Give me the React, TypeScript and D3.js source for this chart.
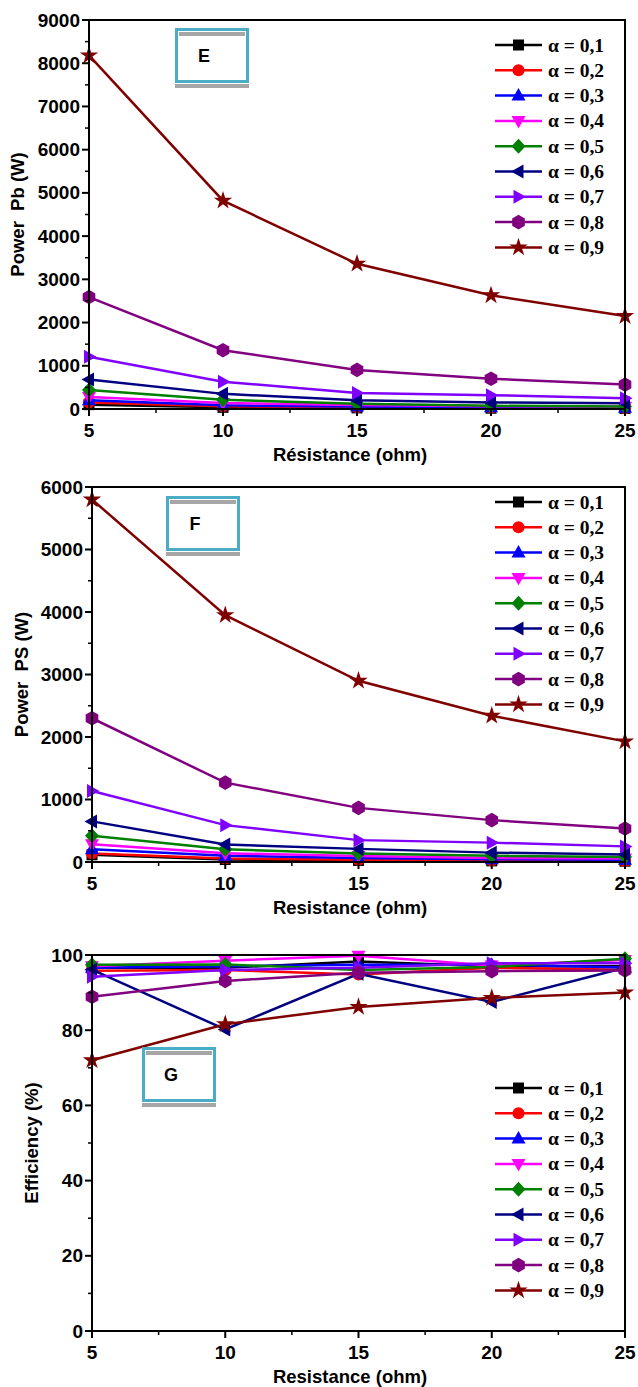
import React from 'react';
import * as d3 from 'd3';

// ---------- data ----------
const resistance = [5, 10, 15, 20, 25];
const alphaLabels = ['α = 0,1', 'α = 0,2', 'α = 0,3', 'α = 0,4', 'α = 0,5', 'α = 0,6', 'α = 0,7', 'α = 0,8', 'α = 0,9'];
const seriesColors = ['#000000', '#FF0000', '#0000FF', '#FF00FF', '#008000', '#000080', '#8000FF', '#800080', '#800000'];
const markerShapes = ['square', 'circle', 'triUp', 'triDown', 'diamond', 'triLeft', 'triRight', 'hexagon', 'star'];

// Power Pb (W), one row per alpha
const pbValues = [
  [100, 38, 25, 18, 12],
  [150, 62, 40, 28, 20],
  [200, 85, 55, 40, 30],
  [280, 140, 95, 65, 50],
  [440, 215, 120, 75, 55],
  [680, 350, 200, 150, 135],
  [1210, 630, 370, 320, 250],
  [2590, 1360, 905, 700, 565],
  [8180, 4820, 3360, 2630, 2150],
];

// Power PS (W)
const psValues = [
  [115, 40, 25, 18, 12],
  [135, 55, 35, 25, 18],
  [205, 100, 65, 45, 35],
  [285, 140, 95, 65, 55],
  [420, 205, 135, 100, 80],
  [650, 280, 210, 150, 120],
  [1135, 590, 350, 310, 250],
  [2300, 1270, 866, 670, 535],
  [5800, 3950, 2900, 2340, 1930],
];

// Efficiency (%)
const efficiencyValues = [
  [96.6, 96.6, 98.3, 97.0, 97.0],
  [95.8, 96.0, 94.8, 96.6, 96.1],
  [96.6, 97.0, 97.4, 97.4, 96.7],
  [97.0, 98.5, 99.8, 97.2, 98.7],
  [97.4, 97.5, 96.0, 96.8, 99.0],
  [96.1, 80.2, 95.0, 87.5, 96.6],
  [94.2, 96.0, 96.6, 97.8, 97.8],
  [88.9, 93.1, 95.3, 95.7, 95.9],
  [72.0, 81.6, 86.2, 88.6, 90.0],
];

const xTicks = [5, 10, 15, 20, 25];
const xMinorTicks = [7.5, 12.5, 17.5, 22.5];
const pbTicks = [0, 1000, 2000, 3000, 4000, 5000, 6000, 7000, 8000, 9000];
const psTicks = [0, 1000, 2000, 3000, 4000, 5000, 6000];
const effTicks = [0, 20, 40, 60, 80, 100];

// ---------- helpers ----------
function markerPath(shape: string): string {
  switch (shape) {
    case 'square':
      return 'M-5.5,-5.5H5.5V5.5H-5.5Z';
    case 'circle':
      return d3.symbol(d3.symbolCircle, 115)() as string;
    case 'triUp':
      return 'M0,-7.5L7,5L-7,5Z';
    case 'triDown':
      return 'M0,7.5L7,-5L-7,-5Z';
    case 'diamond':
      return 'M0,-7.5L7,0L0,7.5L-7,0Z';
    case 'triLeft':
      return 'M-7.5,0L5,-7L5,7Z';
    case 'triRight':
      return 'M7.5,0L-5,-7L-5,7Z';
    case 'hexagon': {
      const r = 7.3;
      const pts = d3.range(6).map((k) => {
        const a = (Math.PI / 3) * k - Math.PI / 2;
        return [r * Math.cos(a), r * Math.sin(a)];
      });
      return 'M' + pts.map((p) => p.join(',')).join('L') + 'Z';
    }
    case 'star':
      return d3.symbol(d3.symbolStar, 105)() as string;
    default:
      return '';
  }
}

const sans = '"Liberation Sans", Arial, sans-serif';
const serif = '"Liberation Serif", "Times New Roman", serif';

type PanelProps = {
  values: number[][];
  yTicks: number[];
  yMax: number;
  yMinorStep: number;
  left: number;
  right: number;
  top: number;
  bottom: number;
  yTitle: string;
  yTitleX: number;
  xTitle: string;
  tag: string;
  tagBox: { x: number; y: number };
  legend: { x: number; y: number };
};

function LabelBox({ x, y, text }: { x: number; y: number; text: string }) {
  const w = 74;
  const h = 55;
  return (
    <g>
      <rect x={x} y={y + h + 1} width={w} height={4} fill="#a6a6a6" />
      <rect x={x + 1.5} y={y + 1.5} width={w - 3} height={h - 3} fill="#fff" stroke="#4bacc6" strokeWidth={3} />
      <rect x={x + 4} y={y + 4} width={w - 8} height={4} fill="#a6a6a6" />
      <text x={x + w / 2 - 8} y={y + h / 2 + 6} textAnchor="middle" fontFamily={sans} fontWeight="bold" fontSize={18}>
        {text}
      </text>
    </g>
  );
}

function Panel(p: PanelProps) {
  const x = d3.scaleLinear().domain([5, 25]).range([p.left, p.right]);
  const y = d3.scaleLinear().domain([0, p.yMax]).range([p.bottom, p.top]);
  const minorY = d3.range(0, p.yMax + 1e-9, p.yMinorStep).filter((v) => !p.yTicks.includes(v));
  const line = d3
    .line<number>()
    .x((_, i) => x(resistance[i]))
    .y((d) => y(d));
  const midY = (p.top + p.bottom) / 2;
  const rowH = 25.3;
  return (
    <g>
      {/* series */}
      {p.values.map((vals, si) => (
        <g key={si}>
          <path d={line(vals) as string} fill="none" stroke={seriesColors[si]} strokeWidth={2.5} />
          {vals.map((v, i) => (
            <path key={i} d={markerPath(markerShapes[si])} transform={`translate(${x(resistance[i])},${y(v)})`} fill={seriesColors[si]} />
          ))}
        </g>
      ))}
      {/* frame */}
      <rect x={p.left} y={p.top} width={p.right - p.left} height={p.bottom - p.top} fill="none" stroke="#000" strokeWidth={2} />
      {/* y ticks */}
      {p.yTicks.map((t) => (
        <g key={'y' + t}>
          <line x1={p.left - 7} x2={p.left} y1={y(t)} y2={y(t)} stroke="#000" strokeWidth={2} />
          <text x={p.left - 9} y={y(t) + 6.5} textAnchor="end" fontFamily={sans} fontWeight="bold" fontSize={19}>
            {t}
          </text>
        </g>
      ))}
      {minorY.map((t) => (
        <line key={'ym' + t} x1={p.left - 4} x2={p.left} y1={y(t)} y2={y(t)} stroke="#000" strokeWidth={1.5} />
      ))}
      {/* x ticks */}
      {xTicks.map((t) => (
        <g key={'x' + t}>
          <line x1={x(t)} x2={x(t)} y1={p.bottom} y2={p.bottom + 7} stroke="#000" strokeWidth={2} />
          <text x={x(t)} y={p.bottom + 28} textAnchor="middle" fontFamily={sans} fontWeight="bold" fontSize={19}>
            {t}
          </text>
        </g>
      ))}
      {xMinorTicks.map((t) => (
        <line key={'xm' + t} x1={x(t)} x2={x(t)} y1={p.bottom} y2={p.bottom + 4} stroke="#000" strokeWidth={1.5} />
      ))}
      {/* titles */}
      <text x={350} y={p.bottom + 52} textAnchor="middle" fontFamily={sans} fontWeight="bold" fontSize={18.5}>
        {p.xTitle}
      </text>
      <text
        transform={`translate(${p.yTitleX},${midY}) rotate(-90)`}
        textAnchor="middle"
        fontFamily={sans}
        fontWeight="bold"
        fontSize={18.5}
        dy="0.35em"
        style={{ whiteSpace: 'pre' }}
      >
        {p.yTitle}
      </text>
      {/* tag box */}
      <LabelBox x={p.tagBox.x} y={p.tagBox.y} text={p.tag} />
      {/* legend */}
      {alphaLabels.map((lab, si) => {
        const ly = p.legend.y + si * rowH;
        return (
          <g key={'lg' + si}>
            <line x1={p.legend.x} x2={p.legend.x + 47} y1={ly} y2={ly} stroke={seriesColors[si]} strokeWidth={2.5} />
            <path d={markerPath(markerShapes[si])} transform={`translate(${p.legend.x + 23.5},${ly})`} fill={seriesColors[si]} />
            <text x={p.legend.x + 53} y={ly + 6.5} fontFamily={serif} fontWeight="bold" fontSize={19.5}>
              {lab}
            </text>
          </g>
        );
      })}
    </g>
  );
}

export default function App() {
  return (
    <svg width={638} height={1387} style={{ position: 'absolute', left: 0, top: 0, background: '#fff' }}>
      <rect width={638} height={1387} fill="#fff" />
      <Panel
        values={pbValues}
        yTicks={pbTicks}
        yMax={9000}
        yMinorStep={500}
        left={89}
        right={625}
        top={20}
        bottom={409}
        yTitle={'Power  Pb (W)'}
        yTitleX={18}
        xTitle="Résistance (ohm)"
        tag="E"
        tagBox={{ x: 175, y: 28 }}
        legend={{ x: 495, y: 45 }}
      />
      <Panel
        values={psValues}
        yTicks={psTicks}
        yMax={6000}
        yMinorStep={500}
        left={92}
        right={625}
        top={487}
        bottom={862}
        yTitle={'Power  PS (W)'}
        yTitleX={22}
        xTitle="Resistance (ohm)"
        tag="F"
        tagBox={{ x: 166, y: 496 }}
        legend={{ x: 495, y: 502 }}
      />
      <Panel
        values={efficiencyValues}
        yTicks={effTicks}
        yMax={100}
        yMinorStep={10}
        left={92}
        right={625}
        top={955}
        bottom={1331}
        yTitle="Efficiency (%)"
        yTitleX={32}
        xTitle="Resistance (ohm)"
        tag="G"
        tagBox={{ x: 142, y: 1047 }}
        legend={{ x: 495, y: 1088 }}
      />
    </svg>
  );
}
